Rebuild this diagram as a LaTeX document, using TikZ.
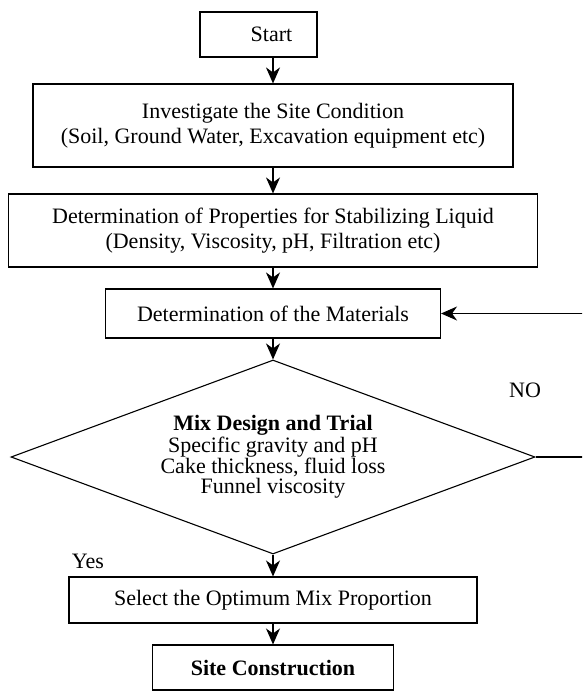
\documentclass[tikz,border=0pt]{standalone}
\usepackage{fontspec}
\setmainfont{Liberation Serif}
\usetikzlibrary{arrows.meta,shapes.geometric}
\begin{document}
\begin{tikzpicture}[x=1pt,y=-1pt,
  box/.style={draw,line width=1.1pt,inner sep=0pt,align=center,font=\fontsize{22}{25}\selectfont},
  arr/.style={line width=1.1pt,-{Stealth[length=16pt,width=14pt,inset=5pt]}}]
\useasboundingbox (0,0) rectangle (582,693);
\clip (0,0) rectangle (582,693);
\node[box,minimum width=117pt,minimum height=45pt] (start) at (258.5,34.5) {\hspace*{26pt}Start};
\node[box,minimum width=480pt,minimum height=83pt] (site) at (273,125.5)
	{Investigate the Site Condition\\(Soil, Ground Water, Excavation equipment etc)};
\node[box,minimum width=529pt,minimum height=73pt] (prop) at (273,230.5)
	{Determination of Properties for Stabilizing Liquid\\(Density, Viscosity, pH, Filtration etc)};
\node[box,minimum width=335pt,minimum height=49pt] (mat) at (273,313.5) {Determination of the Materials};
\node[box,diamond,aspect=2.7,minimum width=524pt,minimum height=194pt,font=\fontsize{22}{20}\selectfont] (mix) at (273,457)
	{\textbf{Mix Design and Trial}\\Specific gravity and pH\\Cake thickness, fluid loss\\Funnel viscosity};
\node[box,minimum width=408pt,minimum height=46pt] (opt) at (273,600) {Select the Optimum Mix Proportion};
\node[box,minimum width=241pt,minimum height=45pt] (con) at (273,667.5) {\textbf{Site Construction}};
\node[font=\fontsize{22}{25}\selectfont] (no) at (525,390) {NO};
\node[font=\fontsize{22}{25}\selectfont] (yes) at (88,561) {Yes};
\coordinate (back) at (600,457);
\draw[arr] (start.south -| site.north) -- (site.north);
\draw[arr] (site.south) -- (prop.north);
\draw[arr] (prop.south) -- (mat.north);
\draw[arr] (mat.south) -- (mix.north);
\draw[arr] (mix.south) -- (opt.north);
\draw[arr] (opt.south) -- (con.north);
\draw[arr] (mix.east) -- (back) |- (mat.east);
\end{tikzpicture}
\end{document}
